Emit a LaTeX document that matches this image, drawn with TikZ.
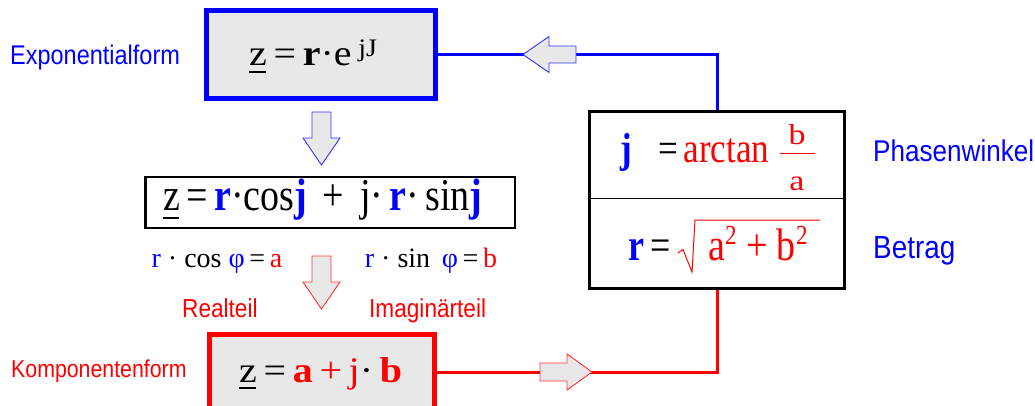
\documentclass[tikz,border=0pt]{standalone}
\usepackage{fontspec}
\setmainfont{Liberation Serif}
\newfontfamily\narrowsans[FakeStretch=0.87]{Liberation Sans}
\usepackage{tikz}
\usetikzlibrary{positioning}
\definecolor{boxgray}{RGB}{232,232,232}
\newcommand{\blu}[1]{\textcolor{blue}{#1}}
\newcommand{\rd}[1]{\textcolor{red}{#1}}
\newcommand{\fs}[1]{\fontsize{#1}{#1}\selectfont}
\newcommand{\sups}[3]{\raisebox{#1}{\fs{#2}#3}}
\newcommand{\zu}{\rlap{\rule[-0.2em]{0.42em}{0.055em}}z}

\begin{document}
\begin{tikzpicture}[x=1pt,y=-1pt,inner sep=0pt,
  lab/.style={anchor=base west,font=\narrowsans},
  formula/.style={anchor=base},
  blockarrow/.style={fill=boxgray,line width=0.9pt}]
\useasboundingbox (0,0) rectangle (1035,406);
% the three forms
\node[draw=blue,fill=boxgray,line width=5pt,minimum width=229pt,
  minimum height=88pt] (exp) at (321,54.5) {};
\node[draw,line width=2.5pt,minimum width=369.5pt,minimum height=50.5pt]
  (mid) at (330,202.5) {};
\node[draw=red,fill=boxgray,line width=5pt,minimum width=225pt,
  minimum height=75pt] (comp) at (322,372) {};
\node[draw,line width=3pt,minimum width=255pt,minimum height=177pt]
  (rbox) at (717,200) {};
\draw[line width=1pt] (rbox.west |- 0,198) -- (rbox.east |- 0,198);
% formulas
\node[formula,anchor=base west,font=\fs{40}] (expf) at (249,66)
  {\scalebox{1}[0.9]{\zu\,=\,\textbf{r}·e\,\sups{11pt}{28}{jJ}}};
\node[formula,anchor=base west,font=\fs{38}] (midf) at (163,210)
  {\scalebox{1}[1.2]{\zu\,=\,\blu{\textbf{r}}·cos\blu{\textbf{j}}\ \,+\ \,j·\,\blu{\textbf{r}}·\,sin\blu{\textbf{j}}}};
\node[formula,anchor=base west,font=\fs{40}] (compf) at (239,382)
  {\scalebox{1}[0.9]{\zu\,=\,\rd{\textbf{a}\,+\,j}·\,\rd{\textbf{b}}}};
\node[formula,anchor=base west,font=\fs{35}] (phif) at (620,163)
  {\scalebox{1}[1.2]{\blu{\textbf{j}}\ \ \ =\,\rd{arctan}}};
\node[formula,red,font=\fs{34}] (numb) at (797,145) {\scalebox{1}[0.85]{b}};
\node[formula,red,font=\fs{34}] (dena) at (797,190) {\scalebox{1}[0.85]{a}};
\node[formula,anchor=base west,font=\fs{36}] (betrf) at (628,260)
  {\scalebox{1}[1.25]{\blu{\textbf{r}}\,=}};
\node[formula,anchor=base west,red,font=\fs{38}] (radf) at (708,260)
  {\scalebox{1}[1.2]{a\sups{13pt}{23}{2}\ +\ b\sups{13pt}{23}{2}}};
\node[formula,font=\fs{28}] (re) at (217,267)
  {\blu{r} · cos \blu{φ}\,=\,\rd{a}};
\node[formula,font=\fs{28}] (im) at (431,267)
  {\blu{r} · sin \,\blu{φ}\,=\,\rd{b}};
% labels
\node[lab,blue,font=\narrowsans\fs{27}] (explab) at (10,65) {Exponentialform};
\node[lab,red,font=\narrowsans\fs{24.5}] (complab) at (11,377) {Komponentenform};
\node[lab,red,font=\narrowsans\fs{26}] (relab) at (182,317) {Realteil};
\node[lab,red,font=\narrowsans\fs{26}] (imlab) at (369,317) {Imaginärteil};
\node[lab,blue,font=\narrowsans\fs{30}] (philab) at (873,162) {Phasenwinkel};
\node[lab,blue,font=\narrowsans\fs{32}] (betrlab) at (873,258) {Betrag};
% fraction bar and root sign
\draw[red,line width=0.9pt] (780,153) -- (815,153);
\draw[red,line width=1pt,line join=miter] (678,253) -- (683,249.5)
  -- (692,272) -- (695,220) -- (820,220);
% connectors
\draw[blue,line width=3pt] (exp.east) -| (rbox.north);
\draw[red,line width=3pt] (rbox.south) |- (comp.east);
% block arrows
\draw[blockarrow,draw=blue!80] (523,54.5) -- (549,36.5) -- (549,46)
  -- (576,46) -- (576,63) -- (549,63) -- (549,72.5) -- cycle;
\draw[blockarrow,draw=red!80] (592,372) -- (567,354) -- (567,363)
  -- (540,363) -- (540,381) -- (567,381) -- (567,390) -- cycle;
\foreach \ytop/\col in {112/blue,256/red}{
  \draw[blockarrow,draw=\col!80] (312,\ytop) -- (331,\ytop)
    -- (331,\ytop+26) -- (340,\ytop+26) -- (321.5,\ytop+53)
    -- (303,\ytop+26) -- (312,\ytop+26) -- cycle;
}
\end{tikzpicture}
\end{document}
